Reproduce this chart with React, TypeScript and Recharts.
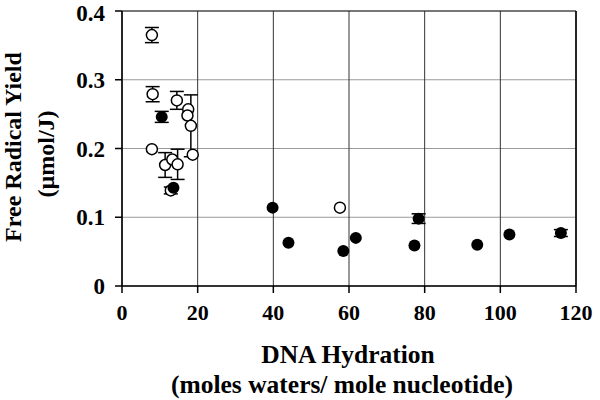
import React from "react";
import {
  ScatterChart,
  Scatter,
  XAxis,
  YAxis,
  CartesianGrid,
  ErrorBar,
  ReferenceLine,
} from "recharts";

// open circles
const openX = [7.9, 8.1, 7.9, 14.5, 17.5, 17.3, 18.2, 18.7, 11.4, 13.3, 14.7, 12.9, 57.6];
const openY = [0.365, 0.279, 0.199, 0.27, 0.257, 0.248, 0.233, 0.191, 0.176, 0.184, 0.177, 0.139, 0.114];
const openErr = [0.011, 0.011, 0, 0.013, 0, 0, 0.045, 0, 0.018, 0, 0.022, 0.005, 0];

// filled circles
const filledX = [10.5, 13.6, 39.8, 44.0, 58.5, 61.8, 78.4, 77.3, 93.9, 102.4, 116];
const filledY = [0.246, 0.143, 0.114, 0.063, 0.051, 0.07, 0.098, 0.059, 0.06, 0.075, 0.077];
const filledErr = [0.008, 0, 0, 0, 0, 0, 0.007, 0, 0, 0, 0.005];

const xTicks = [0, 20, 40, 60, 80, 100, 120];
const yTicks = [0, 0.1, 0.2, 0.3, 0.4];

const openData = openX.map((x, i) => ({ x, y: openY[i], err: openErr[i] || undefined }));
const filledData = filledX.map((x, i) => ({ x, y: filledY[i], err: filledErr[i] || undefined }));

const font = "'Liberation Serif', 'Times New Roman', serif";
const xTickStyle = { fontFamily: font, fontWeight: 700, fontSize: 22, fill: "#000" };
const yTickStyle = { fontFamily: font, fontWeight: 700, fontSize: 23, fill: "#000" };

const OpenDot = (p: any) => (
  <circle cx={p.cx} cy={p.cy} r={5.5} fill="#fff" stroke="#000" strokeWidth={1.5} />
);
const FilledDot = (p: any) => <circle cx={p.cx} cy={p.cy} r={6} fill="#000" />;

const YTitle = () => (
  <g fontFamily={font} fontWeight={700} fontSize={24} fill="#000">
    <text x={21} y={147} transform="rotate(-90 21 147)" textAnchor="middle">
      Free Radical Yield
    </text>
    <text x={46} y={154} transform="rotate(-90 46 154)" textAnchor="middle" dominantBaseline="central">
      (µmol/J)
    </text>
  </g>
);

const XTitle = () => (
  <g fontFamily={font} fontWeight={700} fontSize={25.5} fill="#000">
    <text x={348} y={363} textAnchor="middle">
      DNA Hydration
    </text>
    <text x={342} y={393} textAnchor="middle">
      (moles waters/ mole nucleotide)
    </text>
  </g>
);

export default function App() {
  return (
    <div style={{ position: "absolute", left: 0, top: 0, background: "#fff" }}>
      <ScatterChart width={600} height={400} margin={{ top: 11, right: 24, left: 0, bottom: 0 }}>
        <CartesianGrid vertical={false} stroke="#9a9a9a" strokeWidth={1} />
        <CartesianGrid horizontal={false} stroke="#333" strokeWidth={1} />
        <XAxis
          type="number"
          dataKey="x"
          domain={[0, 120]}
          ticks={xTicks}
          height={114}
          tickSize={7}
          tickMargin={11}
          stroke="#000"
          strokeWidth={1.5}
          tick={xTickStyle}
          label={<XTitle />}
        />
        <YAxis
          type="number"
          dataKey="y"
          domain={[0, 0.4]}
          ticks={yTicks}
          width={122}
          tickSize={7}
          tickMargin={10}
          stroke="#000"
          strokeWidth={1.5}
          tick={yTickStyle}
          tickFormatter={(v: number) => (v === 0 ? "0" : String(v))}
          label={<YTitle />}
        />
        <ReferenceLine y={0.4} stroke="#222" strokeWidth={1.2} />
        <ReferenceLine x={120} stroke="#000" strokeWidth={1.5} />
        <Scatter data={openData} shape={OpenDot} isAnimationActive={false}>
          <ErrorBar dataKey="err" direction="y" width={7} stroke="#000" strokeWidth={1.5} />
        </Scatter>
        <Scatter data={filledData} shape={FilledDot} isAnimationActive={false}>
          <ErrorBar dataKey="err" direction="y" width={7} stroke="#000" strokeWidth={1.5} />
        </Scatter>
      </ScatterChart>
    </div>
  );
}
